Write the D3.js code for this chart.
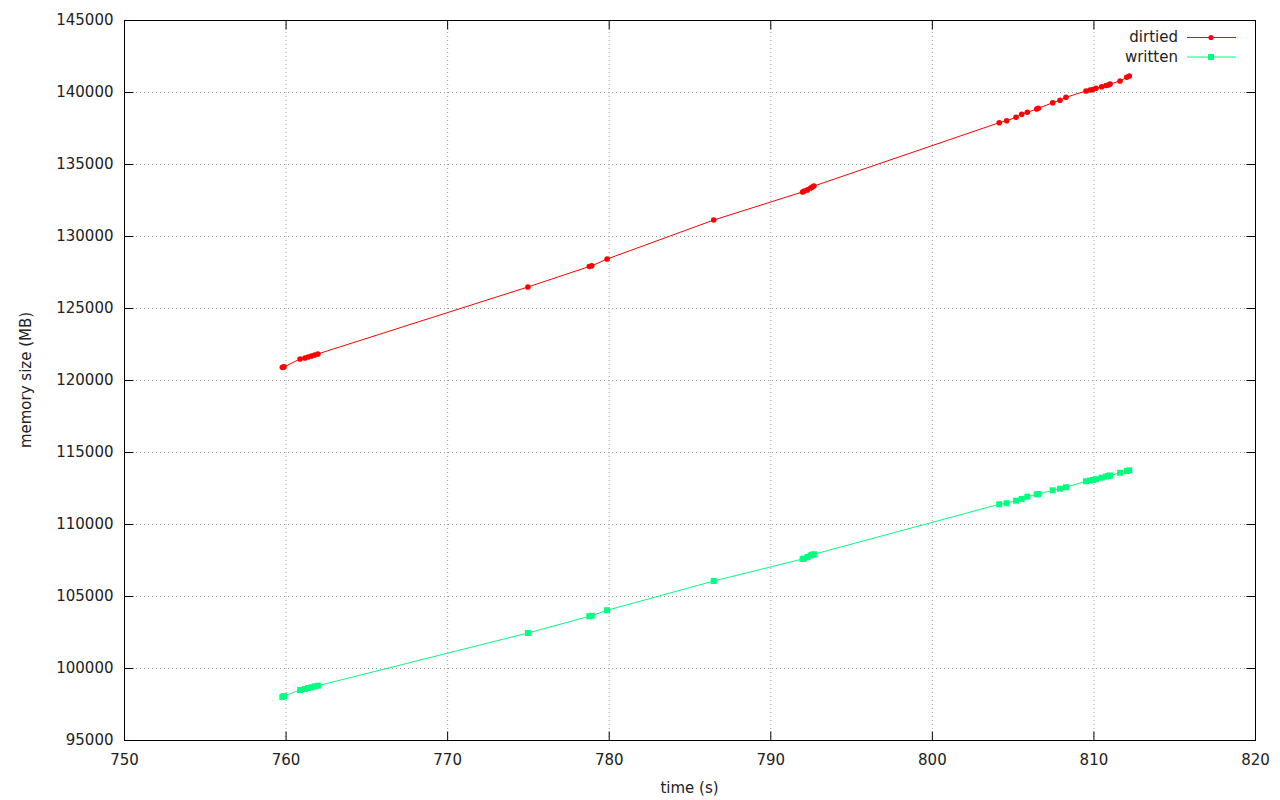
<!DOCTYPE html>
<html><head><meta charset="utf-8">
<script src="https://cdn.jsdelivr.net/npm/d3@7"></script>
<style>body{margin:0;background:#fff}svg{display:block}text{font-family:"DejaVu Sans",sans-serif;fill:#222}</style>
</head><body>
<script>
const times = [759.8,759.9,760.9,761.2,761.4,761.6,761.8,762.0,775.0,778.8,778.95,779.9,786.5,
  792.0,792.1,792.3,792.5,792.6,792.7,804.17,804.63,805.21,805.56,805.91,806.49,806.59,807.48,807.93,808.30,
  809.54,809.79,809.97,810.16,810.51,810.78,810.92,811.03,811.65,812.06,812.22];
const dirtied = [120880,120910,121460,121530,121600,121670,121740,121810,126460,127880,127930,128400,131110,
  133060,133130,133200,133330,133400,133470,137868,138007,138243,138452,138591,138820,138868,139257,139424,139632,
  140070,140139,140174,140257,140368,140452,140486,140556,140764,141021,141111];
const written = [97990,98050,98475,98540,98610,98660,98720,98770,102430,103590,103630,104010,106040,
  107570,107610,107710,107815,107865,107900,111370,111440,111620,111740,111900,112060,112080,112340,112450,112550,
  112970,113020,113060,113110,113220,113290,113340,113370,113560,113680,113730];
const xTicks = [750,760,770,780,790,800,810,820];
const yTicks = [95000,100000,105000,110000,115000,120000,125000,130000,135000,140000,145000];
const seriesNames = ["dirtied","written"];
const seriesColors = ["#ff0000","#00ff7f"];

const W=1280,H=800, L=124,R=1255,T=20,B=740;
const svg=d3.select("body").append("svg").attr("width",W).attr("height",H);
const x=d3.scaleLinear().domain([750,820]).range([L,R]);
const y=d3.scaleLinear().domain([95000,145000]).range([B,T]);

// grid
const g=svg.append("g");
xTicks.slice(1,-1).forEach(t=>g.append("line").attr("x1",x(t)+0.5).attr("x2",x(t)+0.5).attr("y1",T).attr("y2",B)
  .attr("stroke","#a0a0a0").attr("stroke-dasharray","1,3"));
yTicks.slice(1,-1).forEach(t=>g.append("line").attr("y1",Math.round(y(t))+0.5).attr("y2",Math.round(y(t))+0.5).attr("x1",L).attr("x2",R)
  .attr("stroke","#a0a0a0").attr("stroke-dasharray","1,3"));

// axes with inward ticks
const tl=9;
const ax=svg.append("g").attr("transform",`translate(0,${B+0.5})`).call(d3.axisBottom(x).tickValues(xTicks).tickFormat(d3.format("d")).tickSizeInner(-tl).tickSizeOuter(0).tickPadding(14));
const axT=svg.append("g").attr("transform",`translate(0,${T+0.5})`).call(d3.axisTop(x).tickValues(xTicks).tickSizeInner(-tl).tickSizeOuter(0).tickFormat(""));
const ay=svg.append("g").attr("transform",`translate(${L+0.5},0)`).call(d3.axisLeft(y).tickValues(yTicks).tickFormat(d3.format("d")).tickSizeInner(-tl).tickSizeOuter(0).tickPadding(11));
const ayR=svg.append("g").attr("transform",`translate(${R+0.5},0)`).call(d3.axisRight(y).tickValues(yTicks).tickSizeInner(-tl).tickSizeOuter(0).tickFormat(""));
[ax,axT,ay,ayR].forEach(a=>{a.select(".domain").remove();a.selectAll("line").attr("stroke","#000");a.selectAll("text").attr("font-size",15).attr("font-family","DejaVu Sans").attr("fill","#222");});
svg.append("rect").attr("x",L+0.5).attr("y",T+0.5).attr("width",R-L).attr("height",B-T).attr("fill","none").attr("stroke","#000");

// labels
svg.append("text").attr("x",(L+R)/2).attr("y",793).attr("text-anchor","middle").attr("font-size",15).text("time (s)");
svg.append("text").attr("transform",`translate(31,${(T+B)/2}) rotate(-90)`).attr("text-anchor","middle").attr("font-size",15).text("memory size (MB)");

const line=d3.line();
const data=[dirtied,written];
data.forEach((vals,i)=>{
  const pts=times.map((t,j)=>[x(t),y(vals[j])]);
  svg.append("path").attr("d",line(pts)).attr("fill","none").attr("stroke",seriesColors[i]).attr("stroke-width",1);
  if(i===0) svg.append("g").selectAll("circle").data(pts).join("circle").attr("cx",d=>d[0]).attr("cy",d=>d[1]).attr("r",2.8).attr("fill",seriesColors[i]);
  else svg.append("g").selectAll("rect").data(pts).join("rect").attr("x",d=>d[0]-3).attr("y",d=>d[1]-3).attr("width",6).attr("height",6).attr("fill",seriesColors[i]);
});

// legend
seriesNames.forEach((n,i)=>{
  const ly=37+i*19.5;
  svg.append("text").attr("x",1178).attr("y",ly).attr("dy","0.36em").attr("text-anchor","end").attr("font-size",15).text(n);
  svg.append("line").attr("x1",1187).attr("x2",1236).attr("y1",ly+0.5).attr("y2",ly+0.5).attr("stroke",seriesColors[i]);
  if(i===0) svg.append("circle").attr("cx",1211).attr("cy",ly+0.5).attr("r",2.6).attr("fill",seriesColors[i]);
  else svg.append("rect").attr("x",1208).attr("y",ly-2.5).attr("width",6).attr("height",6).attr("fill",seriesColors[i]);
});
</script>
</body></html>
